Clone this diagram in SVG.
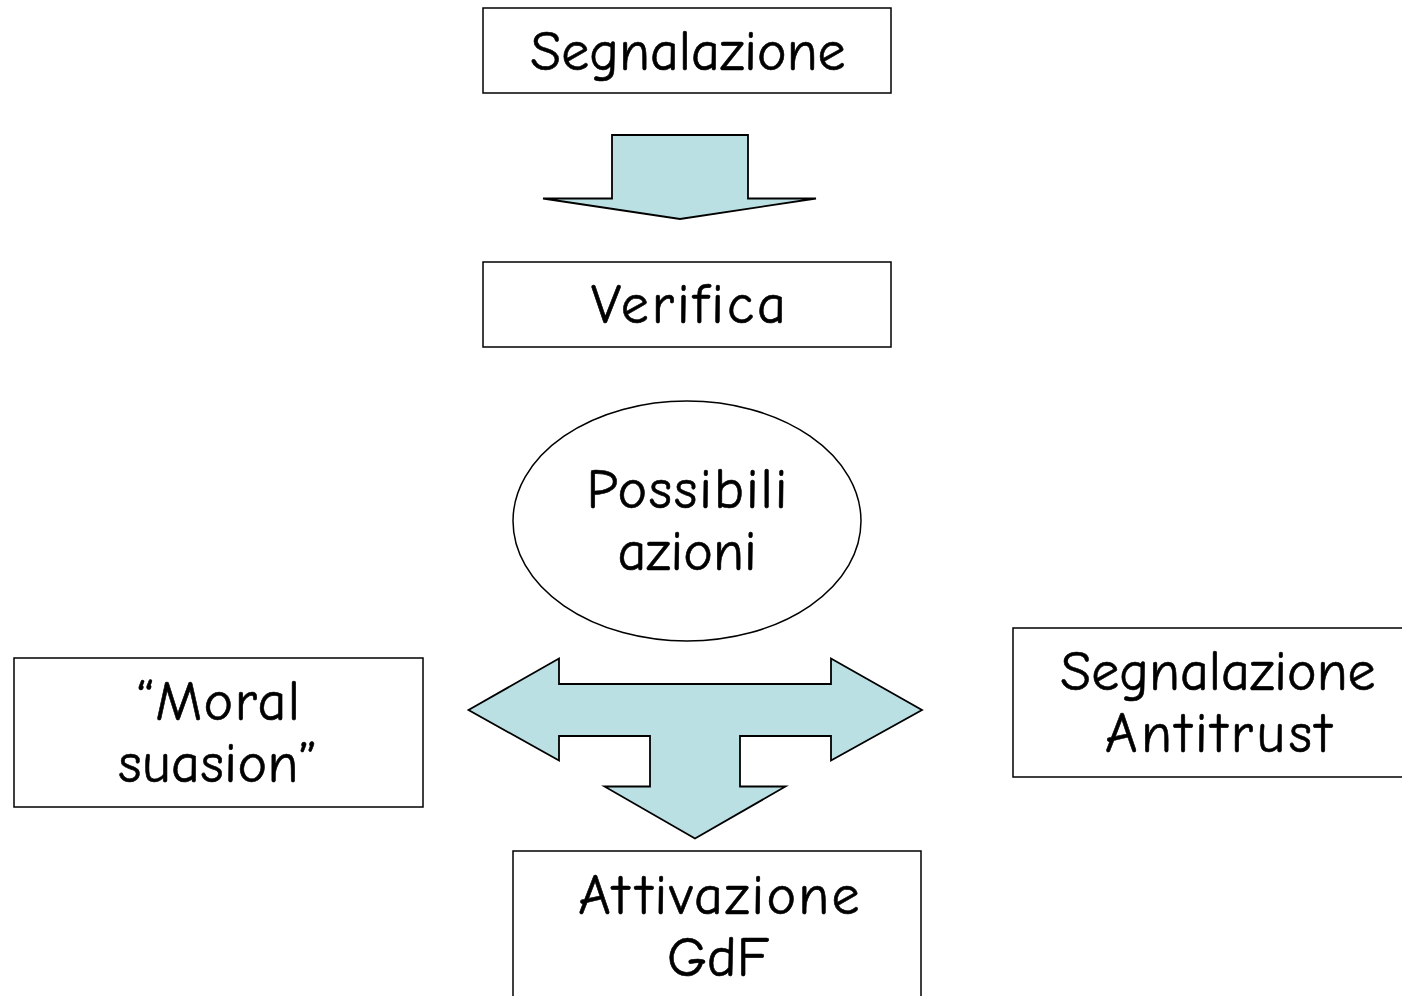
<svg xmlns="http://www.w3.org/2000/svg" width="1402" height="996" viewBox="0 0 1402 996">
<style>
.box{fill:#fff;stroke:#000;stroke-width:1.5}
.arr{fill:#BBE0E3;stroke:#000;stroke-width:1.8;stroke-linejoin:miter}
text{font-family:"Comic Neue","Noto Sans","DejaVu Sans",sans-serif;font-size:56px;fill:#000;text-anchor:middle;font-variant-ligatures:none;font-feature-settings:"liga" 0,"dlig" 0,"calt" 0,"clig" 0;stroke:#000;stroke-width:0.6}
</style>
<rect width="1402" height="996" fill="#fff"/>
<g id="segnalazione"><rect class="box" x="483" y="8" width="408" height="85"/><text x="688" y="70">Segnalazione</text></g>
<g id="verifica"><rect class="box" x="483" y="262" width="408" height="85"/><text x="690" y="323" letter-spacing="3">Verifica</text></g>
<g id="possibili"><ellipse class="box" cx="687" cy="521" rx="174" ry="120"/><text x="688" y="508" letter-spacing="2">Possibili</text><text x="687" y="570">azioni</text></g>
<g id="moral"><rect class="box" x="14" y="658" width="409" height="149"/><text x="219" y="720" letter-spacing="1.5">“Moral</text><text x="218" y="782" letter-spacing="0.5">suasion”</text></g>
<g id="antitrust"><rect class="box" x="1013" y="628" width="395" height="149"/><text x="1218" y="690">Segnalazione</text><text x="1220" y="752" letter-spacing="3.5">Antitrust</text></g>
<g id="attivazione"><rect class="box" x="513" y="851" width="408" height="160"/><text x="720" y="914" letter-spacing="2.2">At<tspan dx="5">t</tspan>ivazione</text><text x="718" y="976">GdF</text></g>
<g id="connectors">
<polygon class="arr" points="612,135 748,135 748,198.5 816,198.5 680,219 543,198.5 612,198.5"/>
<polygon class="arr" points="468.5,710 559,658.5 559,684 831,684 831,658.5 922,710 831,760.5 831,736 740,736 740,786.5 785.5,786.5 695,838.5 604.5,786.5 650,786.5 650,736 559,736 559,760.5"/>
</g>
</svg>
